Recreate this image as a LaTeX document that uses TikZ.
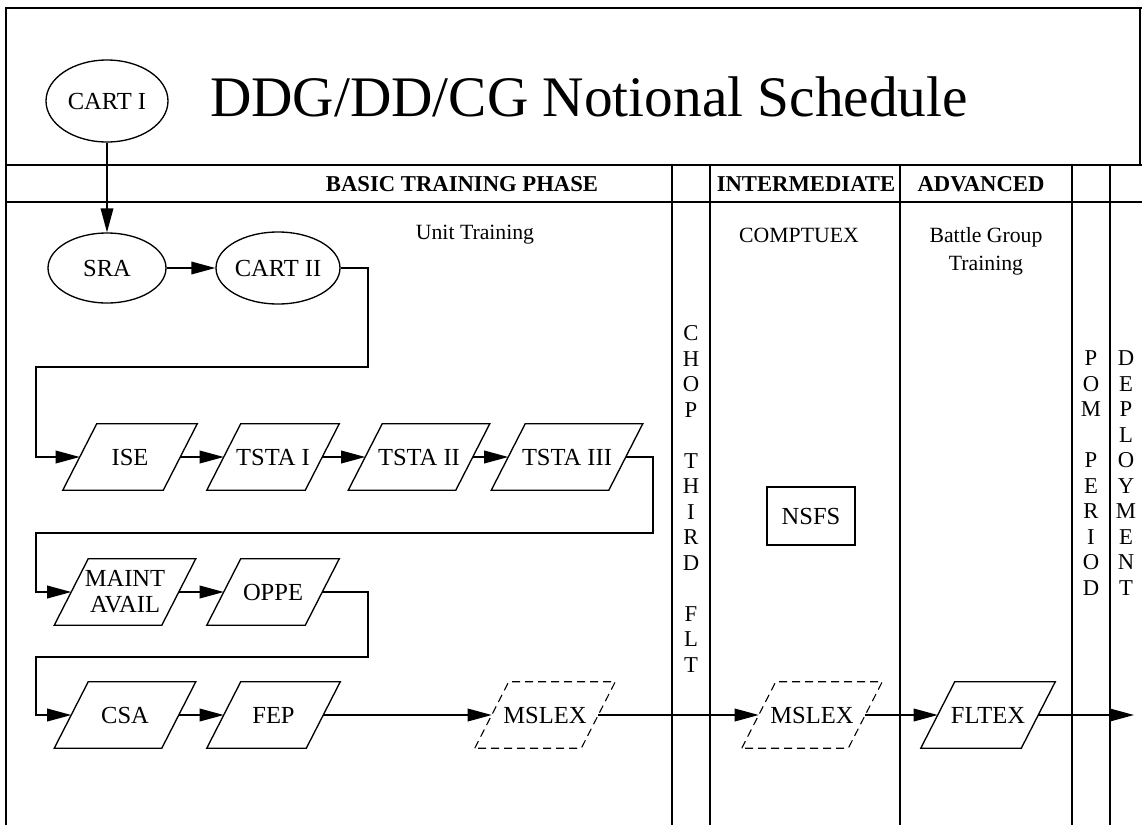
\documentclass[tikz,border=0pt]{standalone}
\usepackage{fontspec}
\setmainfont{Liberation Serif}
\usetikzlibrary{shapes.geometric,arrows.meta}
\newcommand\nodefont{\fontsize{18.4}{19.5}\selectfont}
\newcommand\labfont{\fontsize{16.3}{20.8}\selectfont}
\newcommand\vertfont{\fontsize{17}{19.1}\selectfont}
% draw a right-leaning parallelogram around a rectangular node
\newcommand\drawpara[2]{%
  \draw[#2] ([xshift=-12.75pt]#1.south west) -- ([xshift=12.75pt]#1.north west)
    -- ([xshift=12.75pt]#1.north east) -- ([xshift=-12.75pt]#1.south east) -- cycle;}
\begin{document}
\begin{tikzpicture}[x=0.75pt,y=-0.75pt,
  every node/.style={inner sep=0pt, font=\nodefont},
  lw/.style={line width=1pt},
  frame/.style={line width=1.1pt},
  arr/.style={line width=1pt,-{Triangle[length=18pt,width=9.5pt]}},
  oval/.style={draw,ellipse,line width=1pt},
  pnode/.style={rectangle,minimum width=#1,minimum height=49.5pt},
  solidp/.style={line width=1pt},
  dashp/.style={line width=0.8pt,dash pattern=on 6pt off 3.75pt},
  hdr/.style={font=\bfseries\fontsize{17}{20}\selectfont},
  lab/.style={font=\labfont,align=center},
  vert/.style={font=\vertfont,align=center}]
\useasboundingbox (0,0) rectangle (1142,825);
% frame and grid
\draw[frame] (6,825) -- (6,8) -- (1142,8);
\draw[frame] (1140,8) -- (1140,165);
\draw[frame] (6,165) -- (1142,165);
\draw[frame] (6,202) -- (1142,202);
\foreach \x in {672,710,900,1072,1110} \draw[lw] (\x,165) -- (\x,825);
% title and headers
\node[anchor=base,font=\fontsize{43}{48}\selectfont] (title) at (589,116) {DDG/DD/CG Notional Schedule};
\node[hdr] (basic) at (462,184) {BASIC TRAINING PHASE};
\node[hdr] (inter) at (806,184) {INTERMEDIATE};
\node[hdr] (adv) at (981,184) {ADVANCED};
\node[lab] (unit) at (475,235) {Unit Training};
\node[lab] (comp) at (799,235) {COMPTUEX};
\node[lab,anchor=north] (bgt) at (986,227) {Battle Group\\Training};
\node[vert] (chop) at (691,499) {C\\H\\O\\P\\[19.1pt]T\\H\\I\\R\\D\\[19.1pt]F\\L\\T};
\node[vert] (pom) at (1091,473) {P\\O\\M\\[19.1pt]P\\E\\R\\I\\O\\D};
\node[vert] (depl) at (1126,473) {D\\E\\P\\L\\O\\Y\\M\\E\\N\\T};
% nodes
\node[oval,minimum width=91.5pt,minimum height=61.5pt] (cart1) at (107,101) {CART I};
\node[oval,minimum width=88.5pt,minimum height=52.5pt] (sra) at (107,268) {SRA};
\node[oval,minimum width=93pt,minimum height=54pt] (cart2) at (278,268) {CART II};
\node[pnode=75pt] (ise) at (130,457) {ISE};
\node[pnode=73.5pt] (tsta1) at (273,457) {TSTA I};
\node[pnode=80.25pt] (tsta2) at (419,457) {TSTA II};
\node[pnode=87.75pt] (tsta3) at (567,457) {TSTA III};
\node[pnode=80.25pt,align=center] (maint) at (125,592) {MAINT\\AVAIL};
\node[pnode=73.5pt] (oppe) at (273,592) {OPPE};
\node[pnode=80.25pt] (csa) at (125,715) {CSA};
\node[pnode=74.25pt] (fep) at (273.5,715) {FEP};
\node[pnode=79.5pt] (mslex1) at (545,715) {MSLEX};
\node[pnode=79.5pt] (mslex2) at (812,715) {MSLEX};
\node[pnode=75pt] (fltex) at (988,715) {FLTEX};
\node[draw,lw,minimum width=66pt,minimum height=43.5pt] (nsfs) at (811,516) {NSFS};
\foreach \n in {ise,tsta1,tsta2,tsta3,maint,oppe,csa,fep,fltex} {\drawpara{\n}{solidp}}
\drawpara{mslex1}{dashp}
\drawpara{mslex2}{dashp}
% corner coordinates
\coordinate (k1) at (368,367);
\coordinate (k2) at (36,367);
\coordinate (k3) at (653,533);
\coordinate (k4) at (36,533);
\coordinate (k5) at (368,657);
\coordinate (k6) at (36,657);
\coordinate (kend) at (1134,715);
% connectors
\draw[arr] (cart1) -- (sra);
\draw[arr] (sra) -- (cart2);
\draw[arr] (cart2.east) -| (k1) -- (k2) |- (ise.west);
\draw[arr] (ise) -- (tsta1);
\draw[arr] (tsta1) -- (tsta2);
\draw[arr] (tsta2) -- (tsta3);
\draw[arr] (tsta3.east) -| (k3) -- (k4) |- (maint.west);
\draw[arr] (maint) -- (oppe);
\draw[arr] (oppe.east) -| (k5) -- (k6) |- (csa.west);
\draw[arr] (csa) -- (fep);
\draw[arr] (fep) -- (mslex1);
\draw[arr] (mslex1) -- (mslex2);
\draw[arr] (mslex2) -- (fltex);
\draw[arr] (fltex) -- (kend);
\end{tikzpicture}
\end{document}
